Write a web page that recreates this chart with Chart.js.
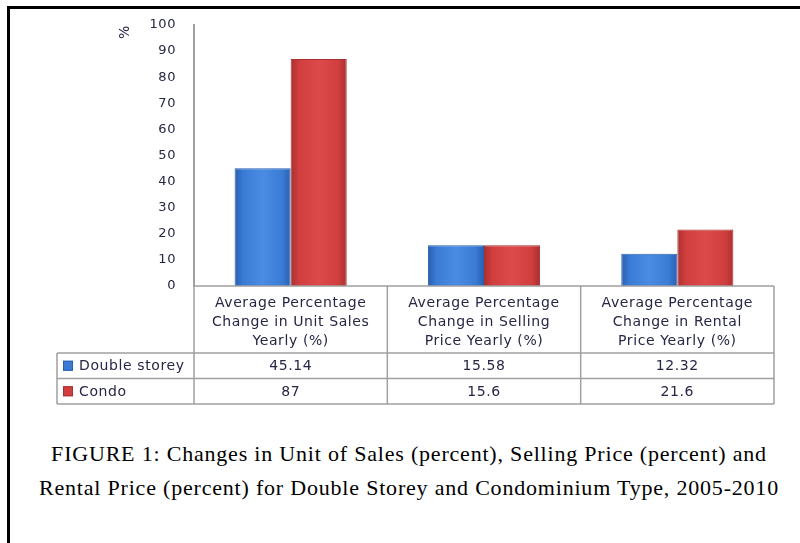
<!DOCTYPE html>
<html lang="en">
<head>
<meta charset="UTF-8">
<title>FIGURE 1</title>
<script src="https://cdn.jsdelivr.net/npm/chart.js"></script>
<style>
  html, body { margin: 0; padding: 0; background: #fff; }
  body { width: 800px; height: 543px; position: relative; overflow: hidden; }
  .frame { position: absolute; left: 7px; top: 6px; width: 820px; height: 560px;
           border-top: 3px solid #000; border-left: 3px solid #000; }
  #wrap { position: absolute; left: 0; top: 0; width: 800px; height: 420px; }
  .caption { position: absolute; left: 9px; top: 437px; width: 800px; text-align: center;
             font-family: "Liberation Serif", "Times New Roman", serif; font-size: 22px;
             letter-spacing: 0.8px; line-height: 34px; color: #000; white-space: nowrap; }
</style>
</head>
<body>
<div class="frame"></div>
<div id="wrap"><canvas id="chart"></canvas></div>
<div class="caption">FIGURE 1: Changes in Unit of Sales (percent), Selling Price (percent) and<br>Rental Price (percent) for Double Storey and Condominium Type, 2005-2010</div>

<script>
// data
const categories = [
  ["Average Percentage", "Change in Unit Sales", "Yearly (%)"],
  ["Average Percentage", "Change in Selling", "Price Yearly (%)"],
  ["Average Percentage", "Change in Rental", "Price Yearly (%)"]
];
const seriesNames = ["Double storey", "Condo"];
const doubleStorey = [45.14, 15.58, 12.32];
const condo = [87, 15.6, 21.6];
const yMin = 0, yMax = 100, yStep = 10;

const textColor = "#262645";
const lineColor = "#a0a0a0";
const catPct = 0.58;
const colors = [
  { base: "#3a7bd5", light: "#4a8be3", dark: "#2a5fae" },
  { base: "#d13e3e", light: "#dc4a4a", dark: "#a83030" }
];

// soft left-to-right shading like the Excel bars
function barFill(k) {
  const c = colors[k];
  return function (ctx) {
    const chart = ctx.chart, x = chart.scales.x;
    if (!x || !x.width || ctx.dataIndex == null) return c.base;
    const w = (x.width / categories.length) * catPct / 2;
    const cx = x.getPixelForValue(ctx.dataIndex) + (k === 0 ? -w / 2 : w / 2);
    const g = chart.ctx.createLinearGradient(cx - w / 2, 0, cx + w / 2, 0);
    g.addColorStop(0, c.dark);
    g.addColorStop(0.15, c.base);
    g.addColorStop(0.5, c.light);
    g.addColorStop(0.85, c.base);
    g.addColorStop(1, c.dark);
    return g;
  };
}

// draws the data table under the bars
const tablePlugin = {
  id: "dataTable",
  beforeDraw(chart) {
    chart.ctx.letterSpacing = "0.6px";
  },
  afterDraw(chart) {
    const ctx = chart.ctx;
    const x = chart.scales.x;
    const top = chart.chartArea.bottom;
    const step = x.width / categories.length;
    const edges = [];
    for (let i = 0; i <= categories.length; i++) edges.push(x.left + i * step);
    const rows = [top + 67, top + 92.5, top + 118];
    const left = 57;

    ctx.save();
    ctx.strokeStyle = lineColor;
    ctx.lineWidth = 1.5;
    ctx.beginPath();
    ctx.moveTo(edges[0], top); ctx.lineTo(edges[edges.length - 1], top);
    rows.forEach(y => { ctx.moveTo(left, y); ctx.lineTo(edges[edges.length - 1], y); });
    edges.forEach(e => { ctx.moveTo(e, top); ctx.lineTo(e, rows[2]); });
    ctx.moveTo(left, rows[0]); ctx.lineTo(left, rows[2]);
    ctx.stroke();

    ctx.font = "14px 'DejaVu Sans'";
    ctx.textBaseline = "middle";
    chart.data.datasets.forEach((ds, r) => {
      const cy = (rows[r] + rows[r + 1]) / 2;
      ctx.fillStyle = colors[r].base;
      ctx.fillRect(63, cy - 5, 10, 10);
      ctx.strokeStyle = colors[r].dark;
      ctx.lineWidth = 1;
      ctx.strokeRect(63.5, cy - 4.5, 9, 9);
      ctx.fillStyle = textColor;
      ctx.textAlign = "left";
      ctx.fillText(ds.label, 79, cy + 1);
      ctx.textAlign = "center";
      ds.data.forEach((v, i) => ctx.fillText(String(v), x.getPixelForValue(i), cy + 1));
    });
    ctx.restore();
  }
};

new Chart(document.getElementById("chart"), {
  type: "bar",
  data: {
    labels: categories,
    datasets: [
      { label: seriesNames[0], data: doubleStorey, backgroundColor: barFill(0), borderColor: colors[0].dark, borderWidth: 1 },
      { label: seriesNames[1], data: condo, backgroundColor: barFill(1), borderColor: colors[1].dark, borderWidth: 1 }
    ]
  },
  options: {
    responsive: true,
    maintainAspectRatio: false,
    animation: false,
    categoryPercentage: catPct,
    barPercentage: 1,
    layout: { padding: { left: 117, top: 25, right: 26, bottom: 0 } },
    plugins: { legend: { display: false }, tooltip: { enabled: false } },
    scales: {
      x: {
        grid: { display: false },
        border: { display: false },
        ticks: { color: textColor, font: { family: "DejaVu Sans", size: 14, lineHeight: "19px" }, padding: 0, maxRotation: 0, autoSkip: false },
        afterFit(s) { s.height = 134; }
      },
      y: {
        min: yMin, max: yMax,
        grid: { display: false },
        border: { display: true, color: lineColor, width: 2 },
        ticks: { stepSize: yStep, color: textColor, font: { family: "DejaVu Sans", size: 13 }, padding: 10 },
        title: { display: true, text: "%", align: "end", color: textColor, font: { family: "DejaVu Sans", size: 14 }, padding: 0 },
        afterFit(s) { s.width = 77; }
      }
    }
  },
  plugins: [tablePlugin]
});
</script>
</body>
</html>
